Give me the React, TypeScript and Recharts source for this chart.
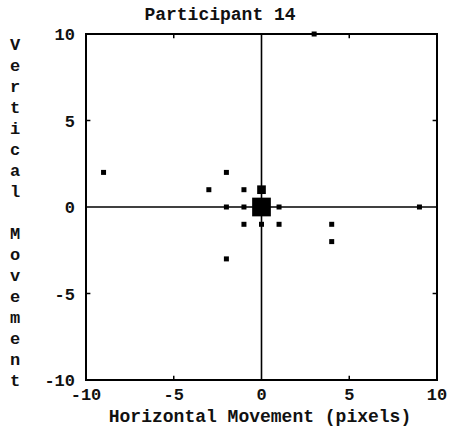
import {
  ScatterChart,
  Scatter,
  XAxis,
  YAxis,
  ReferenceLine,
  ReferenceArea,
} from "recharts";

// displacement samples (pixels) and how many trials landed on each
const dx = [0, 0, -2, -3, -1, -2, -1, 1, -1, 0, 1, 4, 4, -2, -9, 9, 3];
const dy = [0, 1, 2, 1, 1, 0, 0, 0, -1, -1, -1, -1, -2, -3, 2, 0, 10];
const hits = [14, 3, 1, 1, 1, 1, 1, 1, 1, 1, 1, 1, 1, 1, 1, 1, 1];

const axisTicks = [-10, -5, 0, 5, 10];
const innerTicks = [-5, 5];

const title = "Participant 14";
const xTitle = "Horizontal Movement (pixels)";
const yTitle = "Vertical Movement";

const points = dx.map((x, i) => ({ x, y: dy[i], n: hits[i] }));

const W = 451;
const H = 435;
const FONT = "'Liberation Mono', 'Courier New', monospace";

// square marker, side grows with the hit count
function SquareDot(props: any) {
  const { cx, cy, payload } = props;
  const side = 5 * Math.sqrt(payload.n);
  return <rect x={cx - side / 2} y={cy - side / 2} width={side} height={side} fill="#000" />;
}

const tickStyle = { fontFamily: FONT, fontSize: 17, fontWeight: 700, fill: "#111" };

export default function App() {
  const tickLen = 0.25;
  return (
    <div style={{ position: "absolute", left: 0, top: 0, width: W, height: H, background: "#fff" }}>
      <ScatterChart
        width={W}
        height={H}
        margin={{ top: 34, right: 14, bottom: 30, left: 26 }}
      >
        <XAxis
          type="number"
          dataKey="x"
          domain={[-10, 10]}
          ticks={axisTicks}
          axisLine={false}
          tickLine={false}
          tickMargin={2}
          height={25}
          tick={tickStyle}
          interval={0}
        />
        <YAxis
          type="number"
          dataKey="y"
          domain={[-10, 10]}
          ticks={axisTicks}
          axisLine={false}
          tickLine={false}
          tickMargin={5}
          width={60}
          tick={tickStyle}
          interval={0}
        />
        <ReferenceArea x1={-10} x2={10} y1={-10} y2={10} fill="none" stroke="#000" strokeWidth={2} />
        <ReferenceLine x={0} stroke="#000" strokeWidth={1.6} />
        <ReferenceLine y={0} stroke="#000" strokeWidth={1.6} />
        {innerTicks.map((t) => (
          <ReferenceLine key={"b" + t} segment={[{ x: t, y: -10 }, { x: t, y: -10 + tickLen }]} stroke="#000" strokeWidth={1.5} />
        ))}
        {innerTicks.map((t) => (
          <ReferenceLine key={"t" + t} segment={[{ x: t, y: 10 }, { x: t, y: 10 - tickLen }]} stroke="#000" strokeWidth={1.5} />
        ))}
        {innerTicks.map((t) => (
          <ReferenceLine key={"l" + t} segment={[{ x: -10, y: t }, { x: -10 + tickLen, y: t }]} stroke="#000" strokeWidth={1.5} />
        ))}
        {innerTicks.map((t) => (
          <ReferenceLine key={"r" + t} segment={[{ x: 10, y: t }, { x: 10 - tickLen, y: t }]} stroke="#000" strokeWidth={1.5} />
        ))}
        <Scatter data={points} shape={SquareDot} isAnimationActive={false} />
      </ScatterChart>
      <svg
        width={W}
        height={H}
        style={{ position: "absolute", left: 0, top: 0, pointerEvents: "none" }}
      >
        <g fontFamily={FONT} fontWeight={700} fill="#111">
          <text x={220} y={20} fontSize={18} textAnchor="middle">
            {title}
          </text>
          <text x={260} y={422} fontSize={18} textAnchor="middle">
            {xTitle}
          </text>
          {yTitle.split("").map((ch, i) => (
            <text key={i} x={15} y={50 + i * 21} fontSize={17} textAnchor="middle">
              {ch}
            </text>
          ))}
        </g>
      </svg>
    </div>
  );
}
